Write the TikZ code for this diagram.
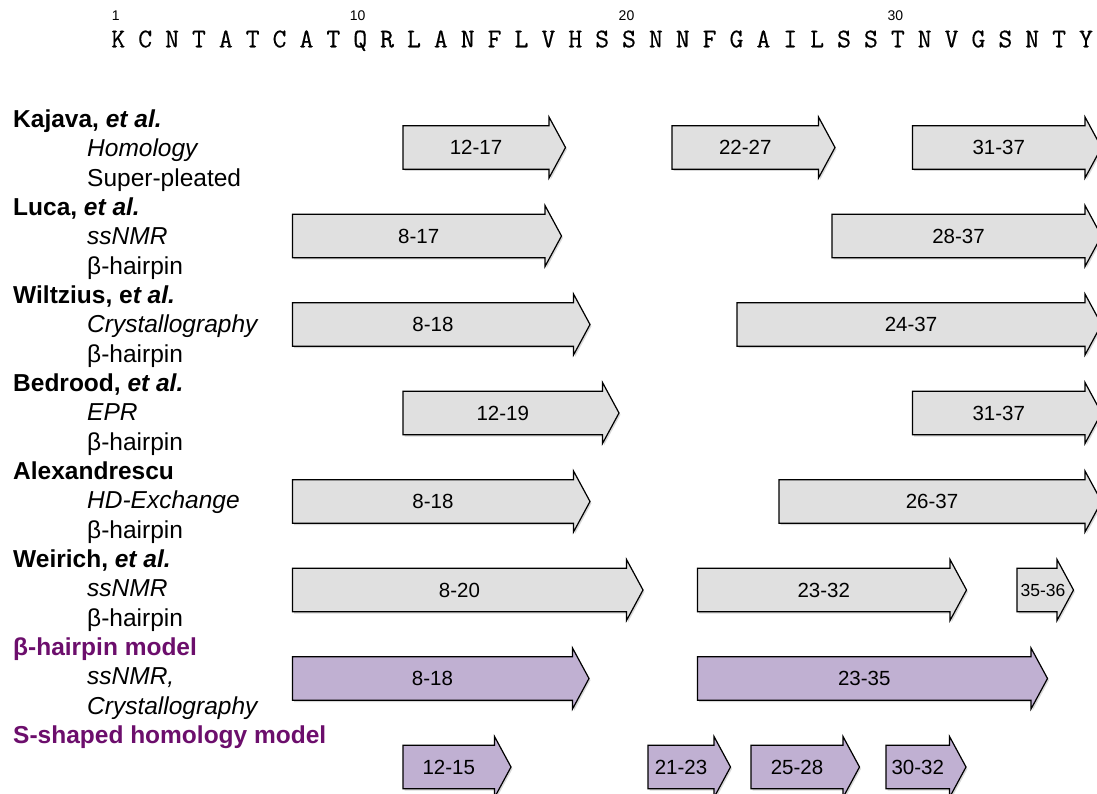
\documentclass[tikz,border=0pt]{standalone}
\usepackage{fontspec}
\setmainfont{Liberation Sans}
\newfontfamily\seqfont[FakeBold=0.4]{Latin Modern Mono}
\usetikzlibrary{shadows}

\definecolor{strandgray}{RGB}{224,224,224}
\definecolor{strandlilac}{RGB}{192,176,210}
\definecolor{modelpurple}{RGB}{108,14,108}

\tikzset{
  seqres/.style={font=\seqfont\fontsize{27}{27}\selectfont, anchor=base, inner sep=0pt},
  seqnum/.style={font=\fontsize{14}{14}\selectfont, anchor=base, inner sep=0pt},
  study/.style={font=\bfseries\fontsize{24.5}{24.5}\selectfont, anchor=base west, inner sep=0pt},
  model/.style={study, text=modelpurple},
  method/.style={font=\itshape\fontsize{24.5}{24.5}\selectfont, anchor=base west, inner sep=0pt},
  fold/.style={font=\fontsize{24.5}{24.5}\selectfont, anchor=base west, inner sep=0pt},
  strandbox/.style={draw=black, line width=1.2pt, line join=miter,
    drop shadow={shadow xshift=1.5pt, shadow yshift=-1.8pt, opacity=0.3}},
  rangelabel/.style={font=\fontsize{20.5}{20.5}\selectfont, inner sep=0pt},
}

% #1 name, #2 left x, #3 x of the arrow-head base, #4 centre y, #5 range, #6 fill
\newcommand\betastrand[6]{%
  \draw[strandbox, fill=#6] (#2,#4-21.7) -- (#3,#4-21.7) -- (#3,#4-30.5)
    -- (#3+16.5,#4) -- (#3,#4+30.5) -- (#3,#4+21.7) -- (#2,#4+21.7) -- cycle;
  \node[rangelabel] (#1) at ({(#2+#3)/2},#4) {#5};
}

\begin{document}
\begin{tikzpicture}[x=1pt,y=-1pt]
\clip (0,0) rectangle (1097,794);
\fill[white] (0,0) rectangle (1097,794);

% amylin sequence with residue numbers
\foreach \res [count=\i] in {K,C,N,T,A,T,C,A,T,Q,R,L,A,N,F,L,V,H,S,S,N,N,F,G,A,I,L,S,S,T,N,V,G,S,N,T,Y}
  \node[seqres] (r\i) at ({118.3+(\i-1)*26.88},47.3) {\res};
\foreach \n in {1,10,20,30}
  \node[seqnum] (n\n) at ({118.3+(\n-1)*26.88-2.5},21) {\n};

% study labels, one line every 29.33
\node[study]  (kaj)  at (13,127.5)  {Kajava, \textit{et al.}};
\node[method] (kajm) at (87,156.8)  {Homology};
\node[fold]   (kajf) at (87,186.2)  {Super-pleated};
\node[study]  (luc)  at (13,215.5)  {Luca, \textit{et al.}};
\node[method] (lucm) at (87,244.8)  {ssNMR};
\node[fold]   (lucf) at (87,274.2)  {β-hairpin};
\node[study]  (wil)  at (13,303.5)  {Wiltzius, e\textit{t al.}};
\node[method] (wilm) at (87,332.8)  {Crystallography};
\node[fold]   (wilf) at (87,362.2)  {β-hairpin};
\node[study]  (bed)  at (13,391.5)  {Bedrood, \textit{et al.}};
\node[method] (bedm) at (87,420.8)  {EPR};
\node[fold]   (bedf) at (87,450.2)  {β-hairpin};
\node[study]  (ale)  at (13,479.5)  {Alexandrescu};
\node[method] (alem) at (87,508.8)  {HD-Exchange};
\node[fold]   (alef) at (87,538.2)  {β-hairpin};
\node[study]  (wei)  at (13,567.5)  {Weirich, \textit{et al.}};
\node[method] (weim) at (87,596.8)  {ssNMR};
\node[fold]   (weif) at (87,626.2)  {β-hairpin};
\node[model]  (hp)   at (13,655.5)  {β-hairpin model};
\node[method] (hpm1) at (87,684.8)  {ssNMR,};
\node[method] (hpm2) at (87,714.2)  {Crystallography};
\node[model]  (ss)   at (13,743.5)  {S-shaped homology model};

% beta strands per study
\betastrand{kaj1}{403}{549}{147.5}{12-17}{strandgray}
\betastrand{kaj2}{672}{818.5}{147.5}{22-27}{strandgray}
\betastrand{kaj3}{912.5}{1085}{147.5}{31-37}{strandgray}

\betastrand{luc1}{292.5}{545}{236}{8-17}{strandgray}
\betastrand{luc2}{832}{1085}{236}{28-37}{strandgray}

\betastrand{wil1}{292.5}{573.5}{324.5}{8-18}{strandgray}
\betastrand{wil2}{737}{1085}{324.5}{24-37}{strandgray}

\betastrand{bed1}{403}{602.5}{413}{12-19}{strandgray}
\betastrand{bed2}{912.5}{1085}{413}{31-37}{strandgray}

\betastrand{ale1}{292.5}{573.5}{501.5}{8-18}{strandgray}
\betastrand{ale2}{779}{1085}{501.5}{26-37}{strandgray}

\betastrand{wei1}{292.5}{626.5}{590}{8-20}{strandgray}
\betastrand{wei2}{697.5}{950}{590}{23-32}{strandgray}
\draw[strandbox, fill=strandgray] (1017,568.3) -- (1057,568.3) -- (1057,559.5)
  -- (1073.5,590) -- (1057,620.5) -- (1057,611.7) -- (1017,611.7) -- cycle;
\node[rangelabel, font=\fontsize{17.5}{17.5}\selectfont] (wei3) at (1043,590) {35-36};

\betastrand{hp1}{292.5}{572.5}{678.5}{8-18}{strandlilac}
\betastrand{hp2}{697.5}{1031}{678.5}{23-35}{strandlilac}

\betastrand{ss1}{403}{494.5}{767}{12-15}{strandlilac}
\betastrand{ss2}{648}{714}{767}{21-23}{strandlilac}
\betastrand{ss3}{751}{843}{767}{25-28}{strandlilac}
\betastrand{ss4}{886}{949.5}{767}{30-32}{strandlilac}
\end{tikzpicture}
\end{document}
